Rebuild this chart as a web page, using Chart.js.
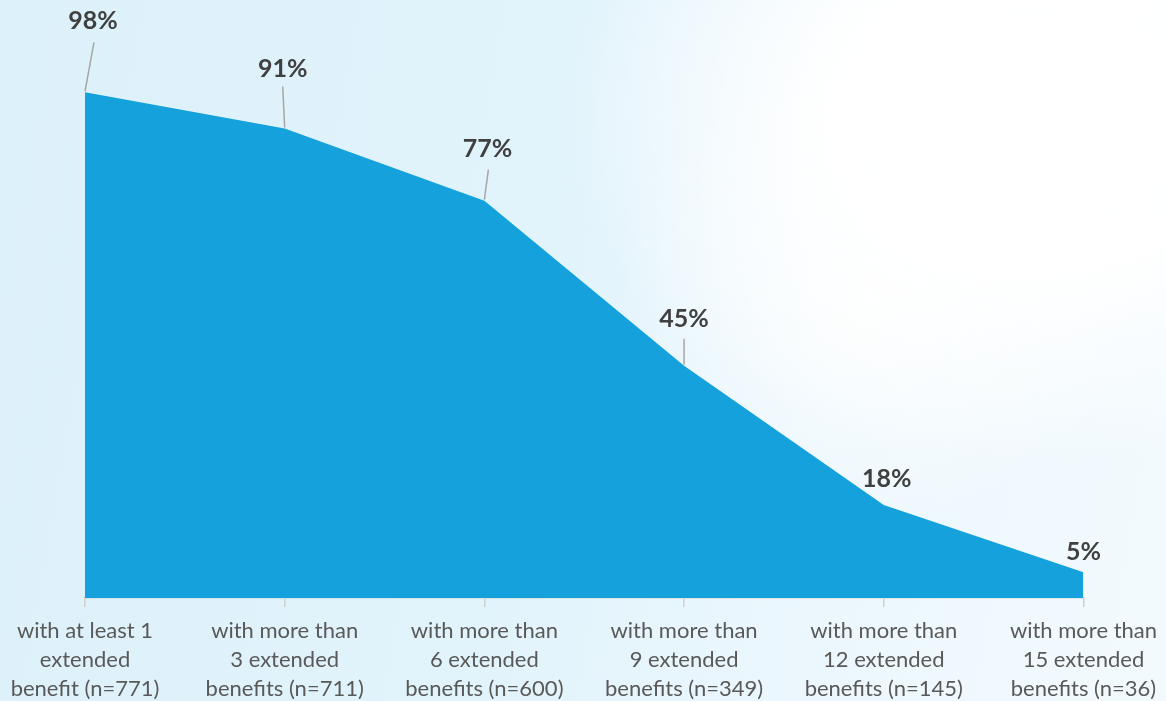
<!DOCTYPE html>
<html>
<head>
<meta charset="utf-8">
<script src="https://cdn.jsdelivr.net/npm/chart.js@4.4.1/dist/chart.umd.min.js"></script>
<style>
  html, body { margin: 0; padding: 0; }
  body {
    width: 1166px; height: 701px; overflow: hidden;
    background:
      radial-gradient(ellipse 480px 360px at 1040px 110px, rgba(255,255,255,1) 0%, rgba(255,255,255,0.95) 45%, rgba(255,255,255,0) 100%),
      radial-gradient(ellipse 260px 240px at 870px 300px, rgba(255,255,255,0.85) 0%, rgba(255,255,255,0) 100%),
      linear-gradient(100deg, #ddf1fa 0%, #e1f3fb 45%, #ebf7fd 70%, #f3fafe 100%);
  }
  #wrap { position: relative; width: 1166px; height: 701px; }
</style>
</head>
<body>
<div id="wrap"><canvas id="myAreaChart" width="1166" height="701"></canvas></div>
<script>
// datos del grafico
const categories = [
  ["with at least 1", "extended", "benefit (n=771)"],
  ["with more than", "3 extended", "benefits (n=711)"],
  ["with more than", "6 extended", "benefits (n=600)"],
  ["with more than", "9 extended", "benefits (n=349)"],
  ["with more than", "12 extended", "benefits (n=145)"],
  ["with more than", "15 extended", "benefits (n=36)"]
];
const shareValues = [98, 91, 77, 45, 18, 5];

// posicion de las etiquetas respecto al punto (texto y linea guia)
const labelOffsets = [
  { dx: 8, dy: -71, line: [9, -50] },
  { dx: -2, dy: -60, line: [-2, -42] },
  { dx: 3, dy: -52, line: [4, -31] },
  { dx: 0, dy: -47, line: [0, -27] },
  { dx: 3, dy: -26, line: null },
  { dx: 0, dy: -20, line: null }
];

const valueLabels = {
  id: 'valueLabels',
  afterDatasetsDraw(chart) {
    const ctx = chart.ctx;
    const meta = chart.getDatasetMeta(0);
    ctx.save();
    meta.data.forEach((pt, i) => {
      const off = labelOffsets[i];
      if (off.line) {
        ctx.beginPath();
        ctx.strokeStyle = '#a6a6a6';
        ctx.lineWidth = 1.5;
        ctx.moveTo(pt.x, pt.y - 1);
        ctx.lineTo(pt.x + off.line[0], pt.y + off.line[1]);
        ctx.stroke();
      }
      ctx.font = 'bold 25px Lato, sans-serif';
      ctx.fillStyle = '#404040';
      ctx.textAlign = 'center';
      ctx.textBaseline = 'middle';
      ctx.fillText(shareValues[i] + '%', pt.x + off.dx, pt.y + off.dy);
    });
    ctx.restore();
  }
};

const areaCtx = document.getElementById('myAreaChart').getContext('2d');
const myAreaChart = new Chart(areaCtx, {
  type: 'line',
  data: {
    labels: categories,
    datasets: [{
      data: shareValues,
      fill: 'origin',
      backgroundColor: '#15a2dc',
      borderWidth: 0,
      pointRadius: 0,
      tension: 0
    }]
  },
  options: {
    responsive: false,
    animation: false,
    layout: { padding: { left: 85, right: 81, top: 82, bottom: 0 } },
    scales: {
      x: {
        offset: false,
        grid: { drawOnChartArea: false, drawTicks: true, tickLength: 9, color: '#d0d0d0', lineWidth: 1.5 },
        border: { display: true, color: '#d0d0d0', width: 1.5 },
        ticks: {
          autoSkip: false, maxRotation: 0, minRotation: 0,
          color: '#595959', padding: 9,
          font: { family: 'Lato, sans-serif', size: 22, lineHeight: 1.32 }
        },
        afterFit(scale) { scale.height = 103; }
      },
      y: { display: false, min: 0, max: 100 }
    },
    plugins: {
      legend: { display: false },
      tooltip: { enabled: false }
    }
  },
  plugins: [valueLabels]
});
</script>
</body>
</html>
